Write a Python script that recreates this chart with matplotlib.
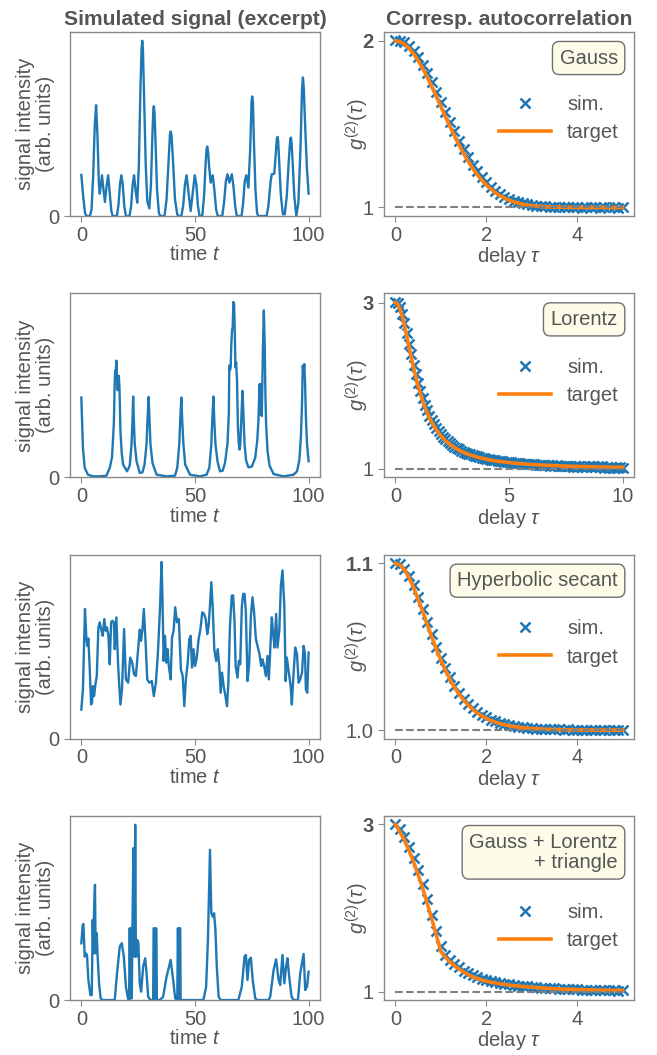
import numpy as np
import matplotlib
matplotlib.use("Agg")
import matplotlib.pyplot as plt

# ---------------- data: simulated signal excerpts (t, intensity) ----------------
sig_gauss = np.array([
    (0, 1.23), (0.8, 0.6), (1.6, 0.1), (2.2, 0), (3.8, 0), (4.5, 0.2), (5.2, 1.2), (5.9, 2.7),
    (6.5, 3.32), (7.1, 2.4), (7.7, 1.0), (8.1, 0.67), (8.6, 0.95), (9.1, 1.22), (9.7, 0.8),
    (10.4, 0.42), (11.1, 0.9), (11.8, 1.22), (12.5, 0.7), (13.2, 0.15), (13.8, 0), (15.6, 0),
    (16.3, 0.3), (17.0, 0.95), (17.6, 1.22), (18.2, 0.95), (18.9, 0.3), (19.6, 0), (21.2, 0),
    (21.9, 0.3), (22.6, 0.95), (23.2, 1.22), (23.9, 0.75), (24.6, 0.40), (25.3, 1.5), (26.0, 3.8),
    (26.5, 5.0), (26.8, 5.25), (27.1, 5.0), (27.5, 3.9), (28.3, 1.6), (29.0, 0.45), (29.9, 0.23),
    (30.6, 0.9), (31.3, 2.5), (31.7, 3.2), (31.9, 3.29), (32.2, 3.1), (32.6, 2.3), (33.3, 0.8),
    (34.1, 0.1), (34.7, 0), (36.6, 0), (37.5, 0.5), (38.4, 1.7), (39.0, 2.45), (39.3, 2.53),
    (39.7, 2.4), (40.3, 1.7), (41.2, 0.5), (42.2, 0.05), (42.8, 0), (44.0, 0),
    (44.8, 0.3), (45.6, 0.95), (46.3, 1.22), (47.0, 0.8), (48.1, 0.15), (49.2, 0.8), (49.9, 1.22),
    (50.6, 0.95), (51.3, 0.3), (52.0, 0), (53.2, 0), (54.0, 0.6), (54.7, 1.6), (55.1, 2.0),
    (55.4, 2.08), (55.8, 1.9), (56.2, 1.5), (56.9, 1.0), (57.8, 1.22), (58.5, 0.8), (59.3, 0.2),
    (60.0, 0), (62.0, 0), (62.8, 0.4), (63.6, 1.05), (64.3, 1.25), (65.1, 1.0), (66.2, 1.25),
    (66.9, 0.9), (67.7, 0.3), (68.4, 0), (70.5, 0), (71.2, 0.4), (71.9, 1.05), (72.6, 1.22),
    (73.5, 0.85), (74.3, 2.0), (74.9, 3.45), (75.2, 3.58), (75.5, 3.4), (75.9, 2.3), (76.6, 0.8),
    (77.3, 0.1), (77.8, 0), (81.5, 0), (82.3, 0.3), (83.3, 1.05), (83.8, 1.25), (84.9, 1.27),
    (85.6, 1.9), (86.0, 2.3), (86.3, 2.37), (86.6, 2.25), (87.0, 1.7), (87.8, 0.6),
    (88.7, 0.05), (89.5, 0.05), (90.4, 0.6), (91.3, 1.7), (91.9, 2.28), (92.2, 2.35), (92.5, 2.2),
    (92.9, 1.7), (93.7, 0.6), (94.6, 0), (95.5, 0.4), (96.4, 2.0), (97.1, 3.8), (97.5, 4.15),
    (97.9, 3.8), (98.3, 3.0), (99.2, 1.5), (100, 0.67)])

sig_lorentz = np.array([
    (0, 2.38), (0.7, 0.88), (1.5, 0.28), (2.9, 0.08), (5.1, 0.03), (8.1, 0.03), (11.0, 0.05),
    (12.5, 0.28), (13.5, 0.6), (14.3, 1.6), (14.7, 2.88), (14.9, 3.18), (15.1, 3.0), (15.4, 3.48),
    (15.7, 2.9), (16.0, 2.6), (16.5, 3.03), (16.8, 2.63), (17.2, 1.38), (17.8, 0.7), (18.4, 0.38),
    (20.1, 0.18), (21.3, 0.35), (22.1, 1.0), (22.5, 1.7), (22.8, 2.41), (23.1, 1.7), (23.5, 1.0),
    (24.3, 0.48), (25.7, 0.13), (26.9, 0.15), (27.8, 0.38), (28.7, 1.0), (29.1, 1.7), (29.6, 2.40),
    (30.0, 1.7), (30.4, 1.0), (31.3, 0.43), (33.1, 0.08), (37.5, 0.03), (41.2, 0.05), (42.2, 0.28),
    (43.1, 1.0), (43.5, 1.7), (44.0, 2.38), (44.4, 1.7), (44.9, 1.0), (45.7, 0.38), (47.8, 0.08),
    (52.2, 0.03), (55.1, 0.08), (56.3, 0.28), (57.2, 1.0), (57.6, 1.7), (58.1, 2.41), (58.5, 1.7),
    (59.0, 1.0), (59.9, 0.48), (61.0, 0.18), (62.2, 0.2), (63.2, 0.43), (64.3, 1.0), (64.9, 1.9),
    (65.1, 3.33), (65.4, 3.2), (65.7, 3.28), (66.0, 4.0), (66.3, 4.38), (66.6, 4.5), (66.9, 5.23),
    (67.2, 5.18), (67.5, 4.38), (67.8, 3.28), (68.1, 3.43), (68.5, 2.88), (68.9, 1.48), (69.3, 1.0),
    (69.6, 0.83), (69.9, 0.95), (70.3, 1.6), (70.9, 2.58), (71.3, 1.9), (71.8, 1.0), (72.5, 0.5),
    (73.5, 0.3), (75.0, 0.32), (76.5, 0.58), (77.4, 1.1), (77.9, 1.68), (78.4, 2.78), (78.8, 1.88),
    (79.1, 2.78), (79.4, 1.83), (79.9, 3.88), (80.3, 4.98), (80.7, 3.88), (81.0, 2.4), (81.3, 1.58),
    (81.9, 0.8), (82.8, 0.35), (84.6, 0.1), (89.0, 0.03), (93.4, 0.08), (94.9, 0.18), (95.9, 0.5),
    (96.6, 1.2), (97.1, 2.2), (97.4, 3.33), (97.8, 3.2), (98.1, 3.38), (98.4, 2.9), (98.8, 1.8),
    (99.3, 1.0), (100, 0.48)])

sig_sech = np.array([
    (0.0, 0.87), (0.7, 1.47), (1.6, 3.87), (2.2, 3.02), (2.6, 2.77), (3.1, 2.99), (3.7, 2.07),
    (4.3, 1.02), (4.7, 1.07), (5.1, 1.57), (5.6, 1.27), (6.2, 1.62), (6.8, 1.87), (7.5, 3.32),
    (8.1, 3.47), (8.7, 3.27), (9.4, 3.07), (10.1, 3.57), (10.7, 3.22), (11.3, 3.32), (11.9, 3.07),
    (12.5, 2.22), (13.1, 3.47), (13.7, 3.52), (14.3, 3.47), (14.7, 2.67), (15.4, 3.62), (16.2, 2.17),
    (17.2, 1.02), (17.9, 1.47), (18.8, 3.27), (19.6, 1.77), (20.6, 1.67), (21.5, 2.42), (22.4, 2.27),
    (23.2, 1.92), (24.0, 1.87), (25.0, 2.67), (25.7, 3.25), (26.3, 2.92), (26.9, 3.27), (27.5, 3.87),
    (28.2, 2.97), (29.0, 1.77), (29.9, 1.67), (31.0, 1.72), (31.9, 1.27), (32.8, 1.67), (33.7, 2.57),
    (34.6, 3.87), (35.3, 5.27), (35.7, 4.17), (36.2, 2.32), (36.8, 3.07), (37.4, 2.27), (37.9, 2.67),
    (38.5, 2.17), (39.3, 1.77), (39.9, 3.02), (40.6, 3.22), (41.3, 3.92), (42.1, 3.47), (42.9, 3.57),
    (43.8, 2.07), (44.6, 1.87), (45.3, 0.97), (46.0, 1.77), (46.8, 2.27), (47.5, 2.97), (48.1, 3.07),
    (48.7, 2.12), (49.4, 2.67), (50.0, 2.17), (50.7, 2.37), (51.6, 2.97), (52.4, 3.27), (53.2, 3.77),
    (54.0, 3.72), (54.7, 3.57), (55.4, 3.12), (56.0, 3.37), (56.6, 3.97), (57.2, 4.67), (57.8, 3.92),
    (58.5, 2.67), (59.3, 2.32), (60.0, 2.67), (60.7, 2.17), (61.3, 1.37), (61.9, 1.97), (62.6, 1.57),
    (63.4, 1.27), (64.1, 0.97), (64.7, 1.67), (65.4, 3.37), (66.2, 4.27), (66.8, 4.27), (67.4, 3.47),
    (67.9, 2.17), (68.7, 1.82), (69.3, 2.32), (69.9, 2.22), (70.6, 3.92), (71.2, 4.32), (71.8, 4.32),
    (72.4, 3.77), (73.1, 1.72), (73.8, 2.17), (74.6, 3.67), (75.3, 4.22), (76.0, 3.77), (76.8, 2.97),
    (77.5, 2.77), (78.4, 2.52), (79.1, 2.17), (79.7, 2.37), (80.4, 2.17), (81.2, 1.87), (81.9, 2.47),
    (82.5, 1.77), (83.2, 2.77), (83.8, 3.62), (84.4, 3.12), (85.0, 2.72), (85.7, 3.72), (86.3, 2.72),
    (87.1, 3.22), (87.8, 4.57), (88.5, 5.02), (89.3, 3.97), (89.9, 1.72), (90.4, 2.42), (91.3, 1.97),
    (92.1, 1.57), (92.6, 1.02), (93.4, 1.97), (94.1, 2.72), (94.9, 2.52), (95.6, 1.67), (96.3, 1.77),
    (97.1, 1.97), (97.8, 2.77), (98.4, 2.52), (98.8, 1.47), (99.4, 1.37), (100, 2.57)])

sig_mix = np.array([
    (0.0, 1.70), (0.6, 2.25), (0.9, 2.28), (1.5, 1.30), (1.9, 1.40), (2.5, 1.35), (3.1, 0.60),
    (4.0, 0.15), (4.6, 0.15), (5.0, 2.40), (5.3, 1.40), (5.6, 2.70), (6.0, 3.45), (6.3, 1.40),
    (6.8, 2.00), (7.1, 1.40), (7.8, 0.50), (8.5, 0.05), (9.3, 0.0), (14.7, 0.0), (15.7, 0.80),
    (16.9, 1.60), (17.8, 1.70), (18.7, 1.30), (19.6, 0.40), (20.6, 0.02), (21.0, 0.0), (21.3, 2.15),
    (21.6, 0.05), (21.9, 2.15), (22.2, 0.05), (22.5, 2.20), (22.9, 4.55), (23.4, 1.30), (23.7, 5.25),
    (24.0, 1.30), (24.3, 1.30), (24.6, 1.80), (25.1, 1.70), (25.7, 0.50), (26.3, 0.25), (27.2, 1.00),
    (28.1, 1.25), (28.7, 0.80), (29.4, 0.10), (30.4, 0.0), (31.6, 0.0), (31.8, 2.15), (32.2, 2.15),
    (32.4, 0.0), (32.8, 0.0), (32.9, 2.15), (33.2, 0.0), (34.6, 0.0), (36.0, 0.10), (37.5, 0.70),
    (39.3, 1.20), (40.4, 0.60), (41.3, 0.05), (42.2, 0.0), (42.5, 2.15), (42.8, 0.0), (43.1, 2.15),
    (43.5, 2.15), (43.7, 0.0), (44.9, 0.0), (53.7, 0.0), (54.9, 0.40), (55.7, 1.80), (56.6, 4.50),
    (57.2, 2.60), (57.8, 2.50), (58.4, 2.60), (59.0, 2.10), (59.6, 1.00), (60.4, 0.10), (61.3, 0.0),
    (69.1, 0.0), (70.6, 0.40), (71.8, 1.30), (72.4, 1.35), (73.1, 0.60), (73.8, 1.20), (74.6, 1.27),
    (75.4, 0.60), (76.5, 0.05), (77.5, 0.0), (82.4, 0.0), (83.1, 0.10), (84.6, 0.90), (85.7, 1.22),
    (86.8, 0.60), (87.5, 0.45), (88.5, 1.35), (89.3, 0.50), (90.1, 1.00), (90.7, 1.25), (91.6, 0.60),
    (92.5, 0.10), (93.4, 0.0), (95.3, 0.0), (96.3, 0.80), (97.8, 1.38), (98.5, 0.30), (99.3, 0.40),
    (100, 0.85)])

# ---------------- data: autocorrelations g2(tau), tau step 0.1 ----------------
g2_gauss_target = [2.000, 1.995, 1.980, 1.956, 1.923, 1.882, 1.835, 1.783, 1.726, 1.667, 1.607,
                   1.546, 1.487, 1.430, 1.375, 1.325, 1.278, 1.236, 1.198, 1.164, 1.135, 1.110,
                   1.089, 1.071, 1.056, 1.044, 1.034, 1.026, 1.020, 1.015, 1.011, 1.008, 1.006,
                   1.004, 1.003, 1.002, 1.002, 1.001, 1.001, 1.000, 1.000, 1.000, 1.000, 1.000,
                   1.000, 1.000, 1.000, 1.000, 1.000, 1.000, 1.000]
g2_gauss_sim = [2.003, 1.998, 1.990, 1.968, 1.940, 1.900, 1.857, 1.805, 1.752, 1.694, 1.634,
                1.575, 1.514, 1.457, 1.401, 1.350, 1.301, 1.257, 1.216, 1.181, 1.150, 1.122,
                1.101, 1.080, 1.064, 1.051, 1.040, 1.031, 1.024, 1.018, 1.014, 1.011, 1.007,
                1.006, 1.004, 1.003, 1.002, 1.003, 1.001, 1.000, 1.002, 0.999, 1.001, 1.000,
                1.002, 0.999, 1.001, 1.000, 1.001, 0.999, 1.000]

g2_lorentz_target = [3.000, 2.980, 2.923, 2.835, 2.724, 2.600, 2.471, 2.342, 2.220, 2.105, 2.000,
                     1.905, 1.820, 1.743, 1.676, 1.615, 1.562, 1.514, 1.472, 1.434, 1.400,
                     1.369, 1.342, 1.318, 1.296, 1.276, 1.258, 1.241, 1.227, 1.212, 1.200,
                     1.188, 1.178, 1.168, 1.159, 1.151, 1.143, 1.136, 1.130, 1.124, 1.118,
                     1.112, 1.107, 1.103, 1.098, 1.094, 1.090, 1.087, 1.083, 1.080, 1.077,
                     1.074, 1.071, 1.069, 1.066, 1.064, 1.062, 1.060, 1.058, 1.056, 1.054,
                     1.052, 1.051, 1.049, 1.048, 1.046, 1.045, 1.044, 1.042, 1.041, 1.040,
                     1.039, 1.038, 1.037, 1.036, 1.035, 1.034, 1.033, 1.032, 1.031, 1.031,
                     1.030, 1.029, 1.029, 1.028, 1.027, 1.027, 1.026, 1.025, 1.025, 1.024,
                     1.024, 1.023, 1.023, 1.022, 1.022, 1.021, 1.021, 1.021, 1.020, 1.020]
g2_lorentz_sim = [3.010, 2.995, 2.945, 2.860, 2.755, 2.635, 2.505, 2.380, 2.255, 2.140, 2.035,
                  1.938, 1.850, 1.772, 1.703, 1.640, 1.585, 1.535, 1.492, 1.452, 1.417,
                  1.385, 1.357, 1.332, 1.309, 1.289, 1.270, 1.252, 1.237, 1.222, 1.209,
                  1.197, 1.186, 1.176, 1.166, 1.158, 1.150, 1.142, 1.136, 1.129, 1.123,
                  1.117, 1.112, 1.107, 1.103, 1.098, 1.094, 1.090, 1.087, 1.083, 1.080,
                  1.078, 1.072, 1.073, 1.067, 1.068, 1.063, 1.064, 1.058, 1.060, 1.055,
                  1.056, 1.050, 1.053, 1.047, 1.050, 1.044, 1.048, 1.041, 1.045, 1.038,
                  1.043, 1.036, 1.041, 1.033, 1.039, 1.031, 1.038, 1.029, 1.036, 1.027,
                  1.035, 1.025, 1.034, 1.023, 1.033, 1.021, 1.032, 1.020, 1.031, 1.018,
                  1.030, 1.016, 1.029, 1.015, 1.029, 1.013, 1.028, 1.012, 1.028, 1.010]

g2_sech_target = [1.1000, 1.0990, 1.0961, 1.0915, 1.0856, 1.0786, 1.0712, 1.0635, 1.0559, 1.0487,
                  1.0420, 1.0359, 1.0305, 1.0257, 1.0216, 1.0181, 1.0151, 1.0125, 1.0104, 1.0086,
                  1.0071, 1.0058, 1.0048, 1.0039, 1.0032, 1.0027, 1.0022, 1.0018, 1.0015, 1.0012,
                  1.0010, 1.0008, 1.0007, 1.0005, 1.0004, 1.0004, 1.0003, 1.0002, 1.0002, 1.0002,
                  1.0001, 1.0001, 1.0001, 1.0001, 1.0000, 1.0000, 1.0000, 1.0000, 1.0000, 1.0000,
                  1.0000]
g2_sech_sim = [1.1002, 1.0995, 1.0968, 1.0925, 1.0868, 1.0800, 1.0727, 1.0650, 1.0574, 1.0500,
               1.0433, 1.0371, 1.0316, 1.0267, 1.0225, 1.0189, 1.0158, 1.0131, 1.0110, 1.0091,
               1.0076, 1.0063, 1.0052, 1.0043, 1.0036, 1.0029, 1.0025, 1.0020, 1.0017, 1.0014,
               1.0012, 1.0009, 1.0008, 1.0006, 1.0006, 1.0004, 1.0005, 1.0002, 1.0004, 1.0001,
               1.0003, 1.0000, 1.0002, 0.9999, 1.0002, 1.0000, 1.0001, 0.9999, 1.0002, 1.0000,
               1.0001]

g2_mix_target = [3.00, 2.91, 2.81, 2.69, 2.55, 2.40, 2.24, 2.06, 1.87, 1.68, 1.48,
                 1.41, 1.355, 1.31, 1.27, 1.235, 1.205, 1.18, 1.158, 1.14, 1.126,
                 1.114, 1.103, 1.094, 1.086, 1.079, 1.073, 1.067, 1.062, 1.057, 1.053,
                 1.049, 1.045, 1.042, 1.039, 1.036, 1.034, 1.031, 1.029, 1.027, 1.025,
                 1.024, 1.022, 1.021, 1.020, 1.019, 1.018, 1.017, 1.016, 1.015, 1.014]
g2_mix_sim = [3.00, 2.95, 2.85, 2.73, 2.60, 2.45, 2.29, 2.11, 1.92, 1.73, 1.55,
              1.44, 1.38, 1.33, 1.29, 1.25, 1.22, 1.195, 1.17, 1.152, 1.137,
              1.124, 1.112, 1.102, 1.094, 1.086, 1.079, 1.072, 1.066, 1.062, 1.057,
              1.052, 1.049, 1.044, 1.042, 1.038, 1.037, 1.032, 1.032, 1.027, 1.028,
              1.024, 1.025, 1.020, 1.022, 1.017, 1.020, 1.015, 1.018, 1.013, 1.016]

tau_max = [5, 10, 5, 5]
names = ["Gauss", "Lorentz", "Hyperbolic secant", "Gauss + Lorentz\n+ triangle"]
peak_ticks = [2, 3, 1.1, 3]
peak_labels = [("1", "2"), ("1", "3"), ("1.0", "1.1"), ("1", "3")]
legend_y = [0.53, 0.52, 0.52, 0.40]

signals = [sig_gauss, sig_lorentz, sig_sech, sig_mix]
g2_sims = [g2_gauss_sim, g2_lorentz_sim, g2_sech_sim, g2_mix_sim]
g2_targets = [g2_gauss_target, g2_lorentz_target, g2_sech_target, g2_mix_target]

# ---------------- style ----------------
TXT = "#555555"
FS = 14.5
plt.rcParams.update({
    "font.family": ["Liberation Sans", "DejaVu Sans"],
    "font.size": FS,
    "mathtext.fontset": "custom",
    "mathtext.rm": "Liberation Sans",
    "mathtext.it": "Liberation Sans:italic",
    "mathtext.bf": "Liberation Sans:bold",
    "text.color": TXT,
    "axes.labelcolor": TXT,
    "axes.edgecolor": "#8a8a8a",
    "axes.linewidth": 1.0,
    "axes.labelpad": 0.5,
    "xtick.color": "#8a8a8a",
    "ytick.color": "#8a8a8a",
    "xtick.labelcolor": TXT,
    "ytick.labelcolor": TXT,
    "xtick.major.size": 4.5,
    "ytick.major.size": 4.5,
    "xtick.major.pad": 2.5,
    "ytick.major.pad": 3.0,
    "xtick.labelsize": FS,
    "ytick.labelsize": FS,
})

BLUE = "#1f77b4"
ORANGE = "#ff7f0e"

fig, axes = plt.subplots(4, 2, figsize=(6.57, 10.55), dpi=100)
fig.subplots_adjust(left=0.1065, right=0.965, top=0.9697, bottom=0.0521,
                    wspace=0.256, hspace=0.42)

for i in range(4):
    axl, axr = axes[i]
    s = signals[i]
    axl.plot(s[:, 0], s[:, 1], color=BLUE, lw=1.7)
    axl.set_ylim(bottom=0)
    axl.set_yticks([0])
    axl.set_xticks([0, 50, 100])
    axl.set_xlabel("time $t$")
    axl.set_ylabel("signal intensity\n(arb. units)", linespacing=1.05)
    axl.yaxis.set_label_coords(-0.06, 0.5)

    sim = np.array(g2_sims[i])
    tgt = np.array(g2_targets[i])
    tau = np.linspace(0, tau_max[i], len(sim))
    tau_t = np.linspace(0, tau_max[i], len(tgt))
    axr.plot(tau, sim, "x", color=BLUE, ms=6.5, mew=1.8, label="sim.")
    axr.plot(tau_t, tgt, "-", color=ORANGE, lw=2.6, label="target")
    axr.plot([tau[0], tau[-1]], [1, 1], "--", color="#808080", lw=1.5)
    axr.set_yticks([1, peak_ticks[i]], labels=list(peak_labels[i]))
    axr.get_yticklabels()[1].set_fontweight("bold")
    axr.set_xticks([0, 5, 10] if tau_max[i] == 10 else [0, 2, 4])
    axr.set_xlabel(r"delay $\tau$")
    axr.set_ylabel(r"$g^{(2)}(\tau)$")
    axr.yaxis.set_label_coords(-0.05, 0.5)
    axr.text(0.935, 0.91, names[i], transform=axr.transAxes, ha="right", va="top",
             multialignment="right", fontsize=FS, linespacing=1.1,
             bbox=dict(boxstyle="round,pad=0.35", fc="#fcfce8", ec="#707070", lw=1.0))
    axr.legend(loc="center right", bbox_to_anchor=(1.0, legend_y[i]), frameon=False,
               handlelength=2.6, fontsize=FS, borderaxespad=0.35, labelspacing=0.45)

axes[0, 0].set_title("Simulated signal (excerpt)", fontweight="bold", color=TXT, fontsize=15.2, pad=5)
axes[0, 1].set_title("Corresp. autocorrelation", fontweight="bold", color=TXT, fontsize=15.2, pad=5)

fig.savefig("out.png", dpi=100)
